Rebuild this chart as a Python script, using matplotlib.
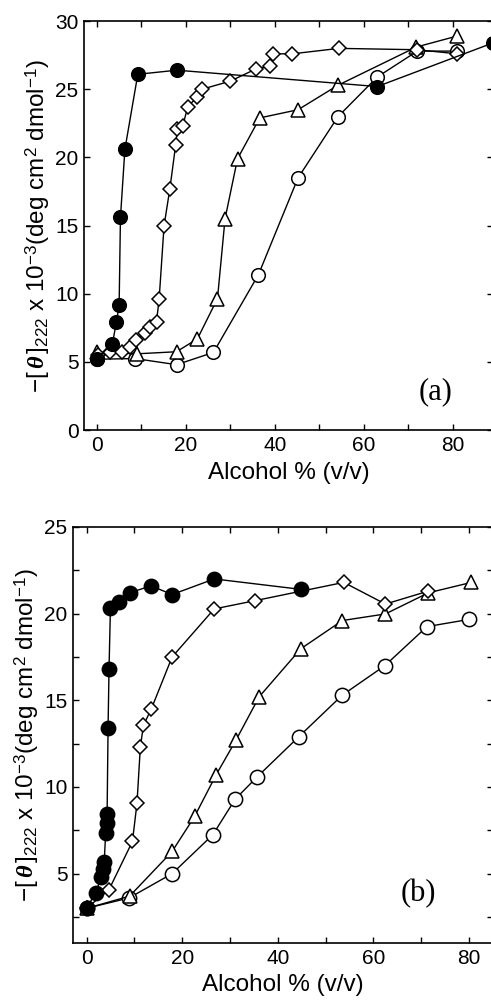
import matplotlib
matplotlib.use('Agg')
import matplotlib.pyplot as plt
from matplotlib.ticker import MultipleLocator

plt.rcParams['font.family'] = ['Liberation Sans', 'DejaVu Sans']
plt.rcParams['mathtext.fontset'] = 'custom'
plt.rcParams['mathtext.rm'] = 'Liberation Sans'
plt.rcParams['mathtext.it'] = 'Liberation Serif:italic:bold'

# panel (a)
a_fill_x = [0, 3.5, 4.4, 5.0, 5.3, 6.3, 9.2, 18, 63, 89]
a_fill_y = [5.25, 6.35, 7.95, 9.15, 15.6, 20.6, 26.1, 26.4, 25.2, 28.4]
a_diam_x = [0.3, 2.9, 5.6, 7.4, 8.9, 10.8, 11.9, 13.4, 14.0, 15.1, 16.4, 17.7, 18.1,
            19.3, 20.4, 22.4, 23.6, 30, 35.8, 38.8, 39.6, 43.9, 54.4, 72, 81]
a_diam_y = [5.5, 5.75, 5.75, 6.1, 6.6, 7.1, 7.6, 7.95, 9.65, 15.0, 17.7, 20.9, 22.1,
            22.3, 23.7, 24.4, 25.0, 25.6, 26.5, 26.7, 27.6, 27.6, 28.0, 27.9, 27.6]
a_tri_x = [0, 9.1, 17.9, 22.6, 27.1, 28.8, 31.6, 36.6, 45.2, 54.2, 71.8, 80.9]
a_tri_y = [5.7, 5.6, 5.75, 6.7, 9.65, 15.5, 19.9, 22.9, 23.5, 25.3, 28.1, 28.9]
a_circ_x = [0, 8.6, 17.9, 26.2, 36.3, 45.2, 54.2, 63, 72, 81]
a_circ_y = [5.2, 5.25, 4.8, 5.7, 11.4, 18.5, 23.0, 25.9, 27.8, 27.8]

# panel (b)
b_fill_x = [0, 1.9, 3.1, 3.4, 3.7, 4.0, 4.2, 4.3, 4.5, 4.7, 5.0, 6.8, 9.0, 13.5, 17.9, 26.7, 44.8]
b_fill_y = [3.0, 3.9, 4.8, 5.25, 5.7, 7.35, 7.9, 8.45, 13.4, 16.8, 20.35, 20.65, 21.2,
            21.6, 21.1, 22.0, 21.4]
b_diam_x = [0, 4.7, 9.6, 10.55, 11.25, 11.9, 13.5, 17.9, 26.7, 35.3, 53.8, 62.5, 71.5]
b_diam_y = [3.0, 4.08, 6.86, 9.06, 12.3, 13.56, 14.47, 17.5, 20.27, 20.75, 21.8, 20.55, 21.3]
b_tri_x = [0, 9.0, 17.9, 22.6, 27.1, 31.25, 36.1, 44.8, 53.5, 62.5, 71.5, 80.5]
b_tri_y = [3.0, 3.7, 6.28, 8.3, 10.7, 12.7, 15.2, 17.97, 19.6, 19.98, 21.2, 21.8]
b_circ_x = [0, 8.9, 17.9, 26.4, 31.1, 35.75, 44.4, 53.5, 62.4, 71.2, 79.9]
b_circ_y = [3.0, 3.6, 5.0, 7.24, 9.3, 10.6, 12.9, 15.3, 17.0, 19.25, 19.66]

ylab = r'$-[\,\mathit{\theta}\,]_{222}$ x 10$^{-3}$(deg cm$^{2}$ dmol$^{-1}$)'

fig = plt.figure(figsize=(4.91, 10.05), dpi=100)
ax1 = fig.add_axes([0.171, 0.572, 0.833, 0.407])
ax2 = fig.add_axes([0.149, 0.0617, 0.855, 0.414])


def draw(ax, fx, fy, dx, dy, tx, ty, cx, cy, ms):
    kw = dict(color='black', lw=1.0, mec='black', mew=1.1, clip_on=False)
    ax.plot(cx, cy, marker='o', ms=ms, mfc='white', zorder=3, **kw)
    ax.plot(tx, ty, marker='^', ms=ms, mfc='white', zorder=4, **kw)
    ax.plot(dx, dy, marker='D', ms=ms * 0.68, mfc='white', zorder=5, **kw)
    ax.plot(fx, fy, marker='o', ms=ms, mfc='black', zorder=6, **kw)


draw(ax1, a_fill_x, a_fill_y, a_diam_x, a_diam_y, a_tri_x, a_tri_y, a_circ_x, a_circ_y, 9.8)
draw(ax2, b_fill_x, b_fill_y, b_diam_x, b_diam_y, b_tri_x, b_tri_y, b_circ_x, b_circ_y, 10.3)

ax1.set_xlim(-2.9, 89)
ax1.set_ylim(0, 30)
ax1.yaxis.set_major_locator(MultipleLocator(5))
ax2.set_xlim(-2.8, 85)
ax2.set_ylim(1, 25)
ax2.yaxis.set_major_locator(MultipleLocator(5))
ax2.yaxis.set_minor_locator(MultipleLocator(2.5))

for ax in (ax1, ax2):
    ax.xaxis.set_major_locator(MultipleLocator(20))
    ax.xaxis.set_minor_locator(MultipleLocator(10))
    ax.tick_params(which='both', direction='in', top=True, right=True, width=1.0)
    ax.tick_params(which='major', length=4, labelsize=15, pad=4)
    ax.tick_params(which='minor', length=4)
    for s in ax.spines.values():
        s.set_linewidth(1.2)
    ax.set_xlabel('Alcohol % (v/v)', fontsize=17.5, labelpad=5)
    ax.set_ylabel(ylab, fontsize=17.5, labelpad=2)

ax1.text(0.86, 0.093, '(a)', transform=ax1.transAxes, fontsize=22,
         family='Liberation Serif', ha='center', va='center')
ax2.text(0.822, 0.119, '(b)', transform=ax2.transAxes, fontsize=22,
         family='Liberation Serif', ha='center', va='center')

plt.savefig('out.png', dpi=100)
